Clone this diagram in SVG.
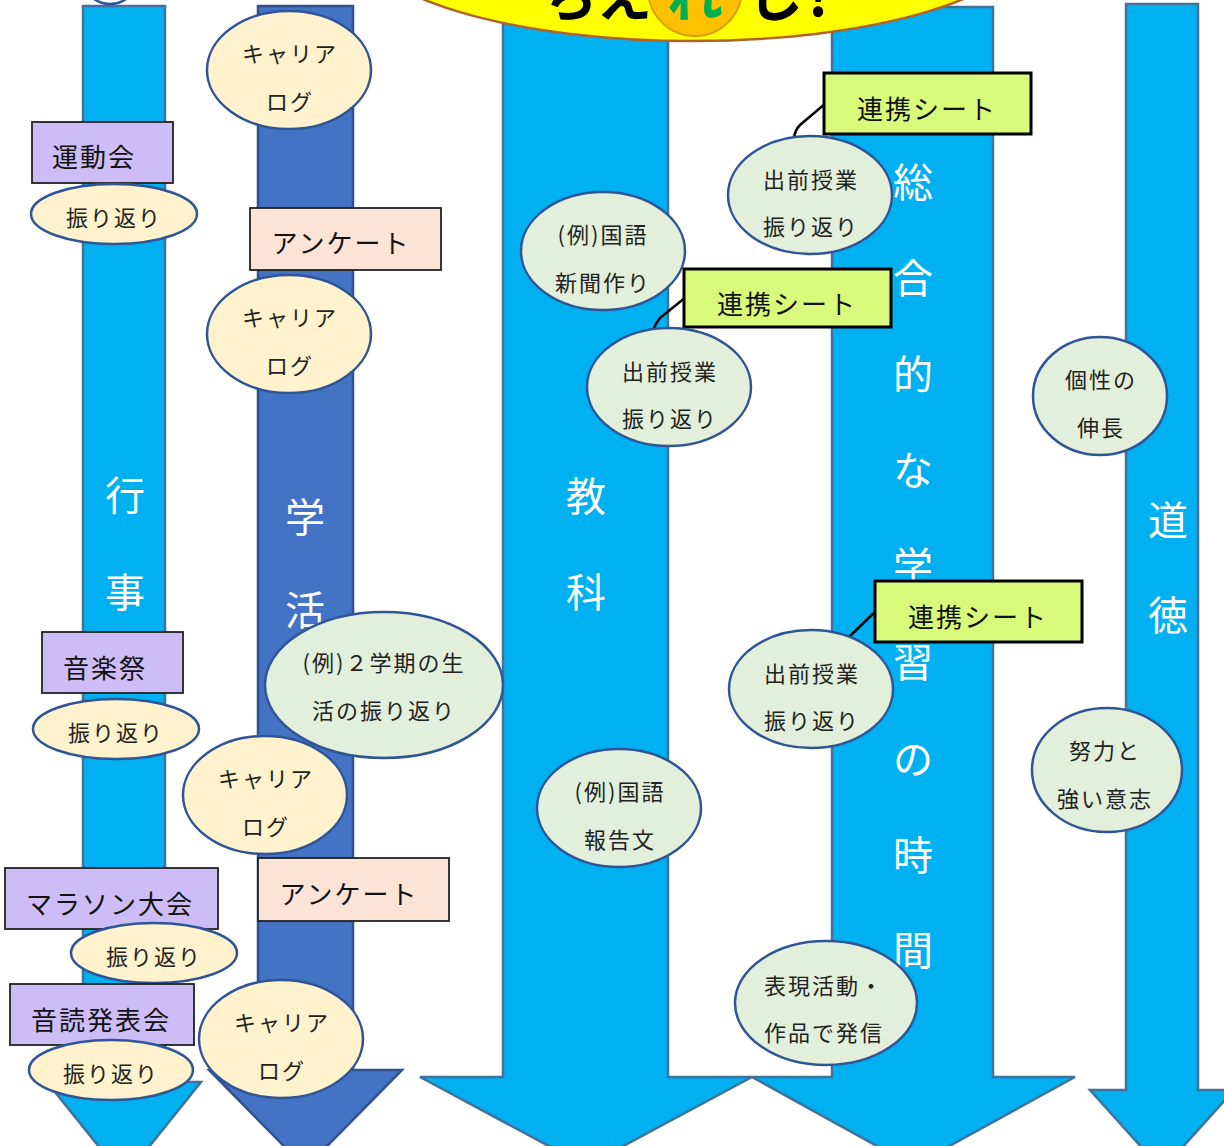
<svg xmlns="http://www.w3.org/2000/svg" width="1224" height="1146" viewBox="0 0 1224 1146">
<style>
.arr{fill:#00B0F0;stroke:#41719C;stroke-width:2.5;stroke-linejoin:miter}
.arr2{fill:#4472C4;stroke:#2F528F;stroke-width:2.5}
.lbl{font-family:"Noto Sans CJK JP","Noto Sans",sans-serif;font-size:40px;fill:#fff;text-anchor:middle;dominant-baseline:central}
.ev{fill:#FCE4D6;stroke:#000;stroke-width:1.5}
.evt{fill:#CCBDF7;stroke:#222;stroke-width:1.8}
.peach{fill:#FBE3D6;stroke:#222;stroke-width:1.8}
.lime{fill:#D8F97A;stroke:#000;stroke-width:3}
.yel{fill:#FFF2CC;stroke:#2F5597;stroke-width:2.5}
.grn{fill:#E2EFDA;stroke:#2F5597;stroke-width:2.5}
.t{font-family:"Noto Sans CJK JP","Noto Sans",sans-serif;font-size:22px;fill:#222;text-anchor:middle;dominant-baseline:central;letter-spacing:2px}
.tb{font-family:"Noto Sans CJK JP","Noto Sans",sans-serif;font-size:26px;fill:#111;text-anchor:middle;dominant-baseline:central;letter-spacing:2px}
.conn{fill:none;stroke:#000;stroke-width:2.5}
.ban{font-family:"Noto Sans CJK JP",sans-serif;font-weight:bold;font-size:56px;fill:#000;text-anchor:middle}
</style>

<g id="arrows">
  <polygon id="arrow-gyoji" class="arr" points="83,6 165,6 165,1082 201,1082 124,1178 47,1082 83,1082"/>
  <polygon id="arrow-gakkatsu" class="arr2" points="258,6 353,6 353,1070 402,1070 305.5,1168 209,1070 258,1070"/>
  <polygon id="arrow-kyoka" class="arr" points="503,-10 668,-10 668,1077 752,1077 586,1166 420,1077 503,1077"/>
  <polygon id="arrow-sogo" class="arr" points="832,7 993,7 993,1077 1075,1077 913,1166 752,1077 832,1077"/>
  <polygon id="arrow-dotoku" class="arr" points="1126,4 1198,4 1198,1090 1234,1090 1162,1170 1090,1090 1126,1090"/>
</g>

<g id="arrow-labels">
  <text class="lbl" x="125" y="493">行</text>
  <text class="lbl" x="125" y="590">事</text>
  <text class="lbl" x="305" y="515">学</text>
  <text class="lbl" x="305" y="608">活</text>
  <text class="lbl" x="586" y="494">教</text>
  <text class="lbl" x="586" y="590">科</text>
  <text class="lbl" x="913" y="180">総</text>
  <text class="lbl" x="913" y="276">合</text>
  <text class="lbl" x="913" y="372">的</text>
  <text class="lbl" x="913" y="468">な</text>
  <text class="lbl" x="913" y="564">学</text>
  <text class="lbl" x="913" y="660">習</text>
  <text class="lbl" x="913" y="757">の</text>
  <text class="lbl" x="913" y="853">時</text>
  <text class="lbl" x="913" y="948">間</text>
  <text class="lbl" x="1168" y="518">道</text>
  <text class="lbl" x="1168" y="613">徳</text>
</g>

<g id="top-circle">
  <ellipse cx="110" cy="-24" rx="28" ry="28" fill="#fff" stroke="#2F5597" stroke-width="2.5"/>
</g>

<g id="banner">
  <ellipse cx="693" cy="-60" rx="333" ry="101" fill="#FFFF00" stroke="#B0622A" stroke-width="2.5"/>
  <circle cx="695" cy="-11" r="47" fill="#FFC000" stroke="#D9A000" stroke-width="2"/>
  <text class="ban" x="570" y="16">ち</text>
  <text class="ban" x="624" y="16">え</text>
  <text class="ban" x="695" y="16" style="fill:#00B050">れ</text>
  <text class="ban" x="775" y="16">し</text>
  <text class="ban" x="818" y="16">!</text>
</g>

<g id="connectors">
  <path class="conn" d="M826,103 L800,125 Q795,130 794,138"/>
  <path class="conn" d="M686,297 L660,318 Q655,324 653,331"/>
  <path class="conn" d="M877,610 L850,636 Q846,640 844,646"/>
</g>

<!-- 行事 -->
<g id="undoukai"><rect class="evt" x="32" y="122" width="141" height="61"/><text class="tb" x="94" y="155">運動会</text></g>
<g id="furikaeri1"><ellipse class="yel" cx="114" cy="214" rx="83" ry="30"/><text class="t" x="114" y="216">振り返り</text></g>
<g id="ongakusai"><rect class="evt" x="42" y="632" width="141" height="61"/><text class="tb" x="105" y="666">音楽祭</text></g>
<g id="furikaeri2"><ellipse class="yel" cx="116" cy="729" rx="83" ry="30"/><text class="t" x="116" y="731">振り返り</text></g>
<g id="marathon"><rect class="evt" x="5" y="868" width="213" height="61"/><text class="tb" x="110" y="902">マラソン大会</text></g>
<g id="furikaeri3"><ellipse class="yel" cx="154" cy="953" rx="83" ry="30"/><text class="t" x="154" y="955">振り返り</text></g>
<g id="ondoku"><rect class="evt" x="10" y="984" width="184" height="61"/><text class="tb" x="101" y="1018">音読発表会</text></g>
<g id="furikaeri4"><ellipse class="yel" cx="111" cy="1070" rx="82" ry="30"/><text class="t" x="111" y="1072">振り返り</text></g>

<!-- 学活 -->
<g id="career1"><ellipse class="yel" cx="289" cy="70" rx="82" ry="59"/><text class="t" x="290" y="52">キャリア</text><text class="t" x="290" y="100">ログ</text></g>
<g id="enquete1"><rect class="peach" x="250" y="208" width="191" height="62"/><text class="tb" x="341" y="241">アンケート</text></g>
<g id="career2"><ellipse class="yel" cx="289" cy="334" rx="82" ry="59"/><text class="t" x="290" y="316">キャリア</text><text class="t" x="290" y="364">ログ</text></g>
<g id="example-gakki"><ellipse class="grn" cx="384" cy="685" rx="119" ry="73"/><text class="t" x="384" y="661">(例)２学期の生</text><text class="t" x="384" y="709">活の振り返り</text></g>
<g id="career3"><ellipse class="yel" cx="265" cy="795" rx="82" ry="59"/><text class="t" x="266" y="777">キャリア</text><text class="t" x="266" y="825">ログ</text></g>
<g id="enquete2"><rect class="peach" x="258" y="858" width="191" height="63"/><text class="tb" x="349" y="892">アンケート</text></g>
<g id="career4"><ellipse class="yel" cx="281" cy="1039" rx="82" ry="59"/><text class="t" x="282" y="1021">キャリア</text><text class="t" x="282" y="1069">ログ</text></g>

<!-- 教科 -->
<g id="kokugo-shinbun"><ellipse class="grn" cx="603" cy="251" rx="82" ry="59"/><text class="t" x="603" y="233">(例)国語</text><text class="t" x="603" y="281">新聞作り</text></g>
<g id="renkei2"><rect class="lime" x="684" y="269" width="207" height="58"/><text class="tb" x="787" y="302">連携シート</text></g>
<g id="demae2"><ellipse class="grn" cx="669" cy="387" rx="82" ry="59"/><text class="t" x="670" y="370">出前授業</text><text class="t" x="670" y="417">振り返り</text></g>
<g id="kokugo-houkoku"><ellipse class="grn" cx="619" cy="808" rx="82" ry="59"/><text class="t" x="620" y="790">(例)国語</text><text class="t" x="620" y="838">報告文</text></g>

<!-- 総合 -->
<g id="renkei1"><rect class="lime" x="824" y="73" width="207" height="61"/><text class="tb" x="927" y="107">連携シート</text></g>
<g id="demae1"><ellipse class="grn" cx="810" cy="195" rx="82" ry="59"/><text class="t" x="811" y="178">出前授業</text><text class="t" x="811" y="225">振り返り</text></g>
<g id="renkei3"><rect class="lime" x="875" y="581" width="207" height="61"/><text class="tb" x="978" y="615">連携シート</text></g>
<g id="demae3"><ellipse class="grn" cx="811" cy="689" rx="82" ry="59"/><text class="t" x="812" y="672">出前授業</text><text class="t" x="812" y="719">振り返り</text></g>
<g id="hyogen"><ellipse class="grn" cx="826" cy="1003" rx="91" ry="62"/><text class="t" x="824" y="984">表現活動・</text><text class="t" x="824" y="1031">作品で発信</text></g>

<!-- 道徳 -->
<g id="kosei"><ellipse class="grn" cx="1100" cy="396" rx="67" ry="59"/><text class="t" x="1101" y="378">個性の</text><text class="t" x="1101" y="426">伸長</text></g>
<g id="doryoku"><ellipse class="grn" cx="1107" cy="770" rx="75" ry="62"/><text class="t" x="1105" y="749">努力と</text><text class="t" x="1105" y="797">強い意志</text></g>
</svg>
